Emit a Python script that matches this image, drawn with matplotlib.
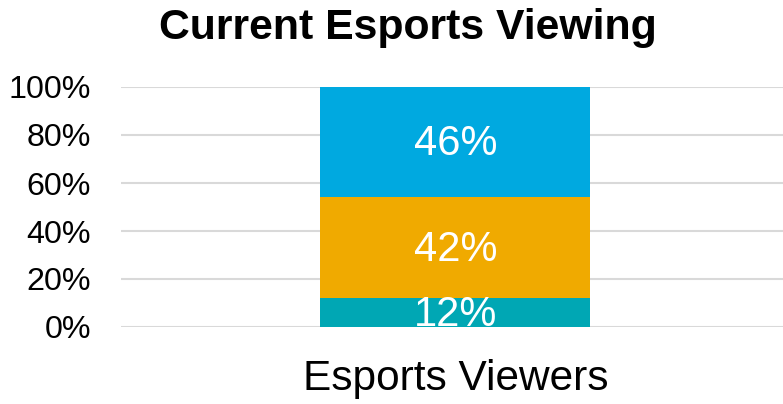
import matplotlib.pyplot as plt
from matplotlib.ticker import FuncFormatter

plt.rcParams['font.family'] = ['Liberation Sans', 'DejaVu Sans']

category = ["Esports Viewers"]
segments = ["Segment A", "Segment B", "Segment C"]
shares = [12, 42, 46]
colors = ["#00A7B4", "#F0AA00", "#00A9E0"]
y_ticks = [0, 20, 40, 60, 80, 100]

fig = plt.figure(figsize=(7.83, 4.04), dpi=100)
ax = fig.add_axes([121 / 783, 1 - 327 / 404, 662 / 783, 240 / 404])

bottom = 0
for name, val, col in zip(segments, shares, colors):
    ax.bar(0, val, bottom=bottom, width=0.408, color=col, label=name, zorder=3)
    t = ax.annotate(f"{val}%", xy=(0, bottom + val / 2), xytext=(0, -1.5),
                    textcoords="offset points", ha="center", va="center",
                    color="white", fontsize=30, zorder=4, annotation_clip=False)
    t.set_clip_on(True)
    bottom += val

ax.set_xlim(-0.505, 0.495)
ax.set_ylim(0, 100)
ax.set_yticks(y_ticks)
ax.yaxis.set_major_formatter(FuncFormatter(lambda v, p: f"{v:.0f}%"))
ax.set_xticks([0])
ax.set_xticklabels(category)
ax.tick_params(axis="y", labelsize=23.2, length=0, pad=21.6)
ax.tick_params(axis="x", labelsize=30.5, length=0, pad=23)
ax.grid(axis="y", color="#D9D9D9", linewidth=1.5, zorder=0)
for s in ax.spines.values():
    s.set_visible(False)

fig.text(408 / 783, 1 - 39 / 404, "Current Esports Viewing", ha="center",
         va="baseline", fontsize=30.8, fontweight="bold")

fig.savefig("out.png", dpi=100)
